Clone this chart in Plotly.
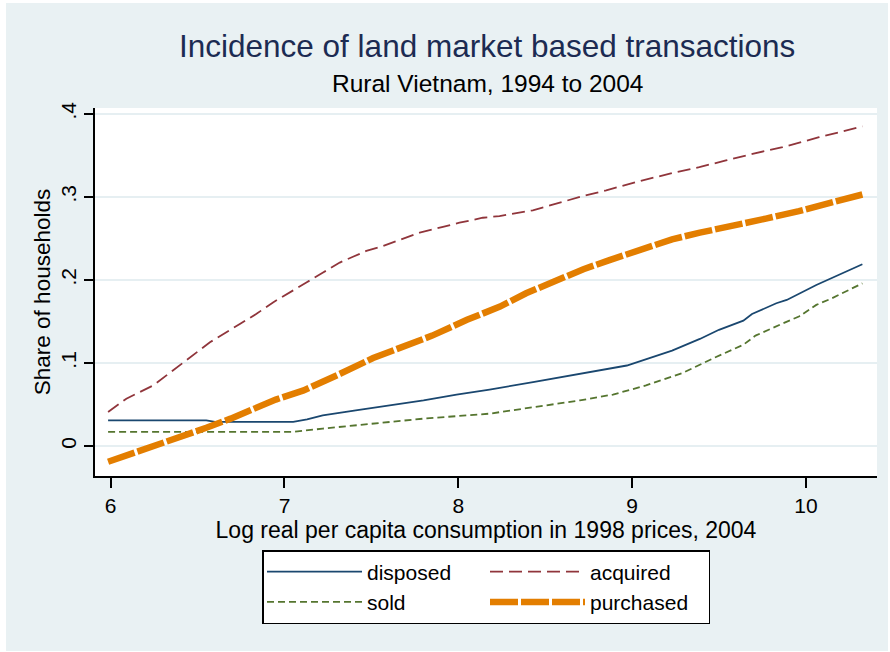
import plotly.graph_objects as go

# ---- data ----
acquired_x = [5.985, 6.09, 6.245, 6.456, 6.571, 6.743, 6.837, 6.934, 7.011, 7.126, 7.222, 7.318, 7.394,
              7.471, 7.567, 7.663, 7.778, 7.912, 8.007, 8.141, 8.237, 8.429, 8.544, 8.716, 8.851, 9.042,
              9.233, 9.387, 9.540, 9.693, 9.866, 10.076, 10.325]
acquired_y = [0.041, 0.057, 0.073, 0.107, 0.125, 0.147, 0.159, 0.173, 0.183, 0.197, 0.209, 0.221, 0.228,
              0.235, 0.241, 0.248, 0.257, 0.264, 0.269, 0.275, 0.277, 0.284, 0.291, 0.301, 0.308, 0.319,
              0.329, 0.336, 0.344, 0.352, 0.360, 0.372, 0.385]

purchased_x = [5.985, 6.13, 6.26, 6.42, 6.55, 6.69, 6.84, 6.95, 7.11, 7.22, 7.32, 7.51, 7.70, 7.85,
               8.05, 8.24, 8.39, 8.56, 8.72, 8.87, 9.04, 9.23, 9.39, 9.58, 9.77, 9.96, 10.15, 10.325]
purchased_y = [-0.019, -0.009, 0.001, 0.012, 0.022, 0.033, 0.046, 0.056, 0.067, 0.077, 0.087, 0.106,
               0.120, 0.133, 0.152, 0.168, 0.184, 0.200, 0.213, 0.224, 0.236, 0.249, 0.257, 0.265,
               0.274, 0.283, 0.293, 0.303]

disposed_x = [5.985, 6.55, 6.60, 7.05, 7.13, 7.22, 7.41, 7.61, 7.80, 7.99, 8.18, 8.43, 8.62, 8.81,
              8.97, 9.10, 9.23, 9.39, 9.50, 9.64, 9.69, 9.83, 9.89, 10.06, 10.325]
disposed_y = [0.031, 0.031, 0.029, 0.029, 0.032, 0.037, 0.043, 0.049, 0.055, 0.062, 0.068, 0.077,
              0.084, 0.091, 0.097, 0.106, 0.115, 0.129, 0.140, 0.151, 0.159, 0.172, 0.176, 0.194, 0.219]

sold_x = [5.985, 7.05, 7.22, 7.41, 7.60, 7.80, 7.99, 8.18, 8.31, 8.51, 8.70, 8.89, 9.08, 9.29, 9.48,
          9.64, 9.71, 9.87, 9.96, 10.06, 10.15, 10.325]
sold_y = [0.017, 0.017, 0.021, 0.025, 0.029, 0.033, 0.036, 0.039, 0.043, 0.049, 0.055, 0.062, 0.073,
          0.088, 0.107, 0.122, 0.133, 0.148, 0.156, 0.170, 0.178, 0.196]

x_ticks = [6, 7, 8, 9, 10]
x_tick_labels = ["6", "7", "8", "9", "10"]
y_ticks = [0, 0.1, 0.2, 0.3, 0.4]
y_tick_labels = ["0", ".1", ".2", ".3", ".4"]

title_text = "Incidence of land market based transactions"
subtitle_text = "Rural Vietnam, 1994 to 2004"
x_title = "Log real per capita consumption in 1998 prices, 2004"
y_title = "Share of households"

# ---- styling ----
FONT = "Liberation Sans, Arial, sans-serif"
BG = "#E9F1F3"
W, H = 890, 652
ML, MR, MT, MB = 95, 13, 108, 176
PW, PH = W - ML - MR, H - MT - MB

def px2paper_x(px):
    return (px - ML) / PW

def px2paper_y(py):
    return (H - MB - py) / PH

fig = go.Figure()
fig.add_trace(go.Scatter(x=disposed_x, y=disposed_y, mode="lines", name="disposed",
                         legendgroup="a", line=dict(color="#1A476F", width=1.8)))
fig.add_trace(go.Scatter(x=acquired_x, y=acquired_y, mode="lines", name="acquired",
                         legendgroup="b", line=dict(color="#90353B", width=1.8, dash="13px,6px")))
fig.add_trace(go.Scatter(x=sold_x, y=sold_y, mode="lines", name="sold",
                         legendgroup="a", line=dict(color="#55752F", width=1.8, dash="7px,4px")))
fig.add_trace(go.Scatter(x=purchased_x, y=purchased_y, mode="lines", name="purchased",
                         legendgroup="b", line=dict(color="#E37E00", width=6.5, dash="28px,3px")))

fig.update_layout(
    width=W, height=H,
    margin=dict(l=ML, r=MR, t=MT, b=MB, autoexpand=False),
    paper_bgcolor="white",
    plot_bgcolor="white",
    font=dict(family=FONT, color="black", size=21),
    showlegend=True,
    legend=dict(
        orientation="h", traceorder="grouped",
        x=px2paper_x(262), y=px2paper_y(550), xanchor="left", yanchor="top",
        bgcolor="white", bordercolor="black", borderwidth=1.5,
        font=dict(family=FONT, size=21, color="black"),
        itemwidth=95, entrywidth=113, tracegroupgap=0,
    ),
    xaxis=dict(
        range=[5.9097, 10.4092], tickmode="array", tickvals=x_ticks, ticktext=x_tick_labels,
        ticks="outside", ticklen=10, tickwidth=1.5, tickcolor="black", automargin=False,
        ticklabelstandoff=0,
        showline=True, linecolor="black", linewidth=1.5, mirror=False,
        showgrid=False, zeroline=False,
        tickfont=dict(family=FONT, size=21, color="black"),
        title=dict(text=x_title, font=dict(family=FONT, size=23, color="black"), standoff=0),
    ),
    yaxis=dict(
        range=[-0.0361, 0.4072], tickmode="array", tickvals=y_ticks, ticktext=y_tick_labels,
        ticks="outside", ticklen=9, tickwidth=1.5, tickcolor="black", tickangle=-90,
        automargin=False,
        showline=True, linecolor="black", linewidth=1.5, mirror=False,
        showgrid=True, gridcolor="#E6EFF2", gridwidth=1.5, zeroline=False,
        tickfont=dict(family=FONT, size=21, color="black"),
        title=dict(text=y_title, font=dict(family=FONT, size=22.5, color="black"), standoff=0),
    ),
    shapes=[
        dict(type="rect", xref="paper", yref="paper", layer="below",
             x0=px2paper_x(6), x1=px2paper_x(888), y0=px2paper_y(651), y1=px2paper_y(3),
             fillcolor=BG, line=dict(width=0)),
        dict(type="rect", xref="paper", yref="paper", layer="below",
             x0=0, x1=1, y0=0, y1=1, fillcolor="white", line=dict(width=0)),
    ],
    annotations=[
        dict(text=title_text, xref="paper", yref="paper", x=px2paper_x(487.5), y=px2paper_y(46),
             xanchor="center", yanchor="middle", showarrow=False,
             font=dict(family=FONT, size=31.5, color="#1C2B52")),
        dict(text=subtitle_text, xref="paper", yref="paper", x=px2paper_x(487.5), y=px2paper_y(84),
             xanchor="center", yanchor="middle", showarrow=False,
             font=dict(family=FONT, size=24.5, color="black")),
    ],
)

fig.write_html("out.html", config={"displayModeBar": False},
               post_script="document.body.style.margin='0px';")
